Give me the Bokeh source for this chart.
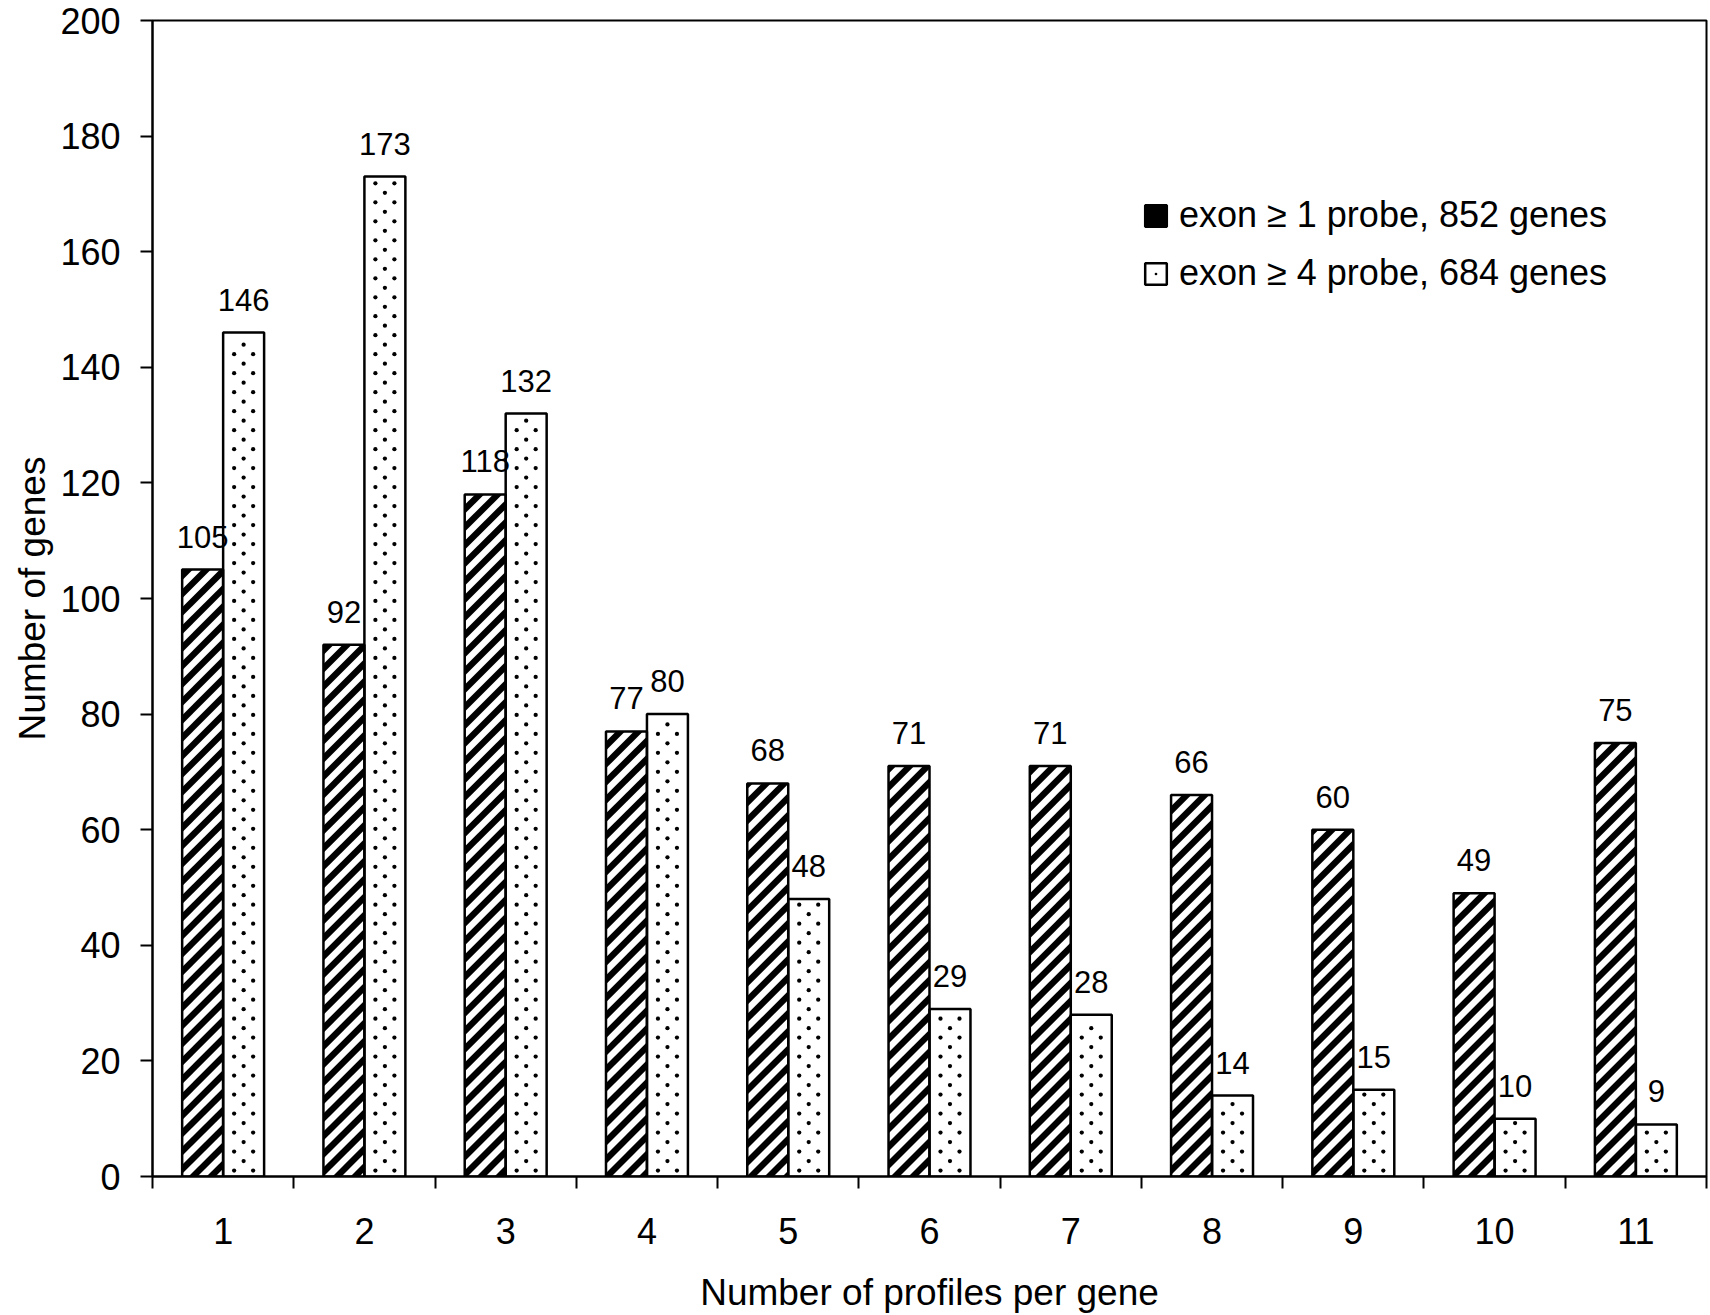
import math
import numpy as np
from bokeh.plotting import figure
from bokeh.models import (ColumnDataSource, Range1d, FixedTicker, Legend, LegendItem,
                          LabelSet)
from bokeh.core.properties import value
from bokeh.embed import file_html
from bokeh.resources import INLINE

# Number of profiles per gene (x categories)
profiles = [1, 2, 3, 4, 5, 6, 7, 8, 9, 10, 11]
tick_labels = ["1", "2", "3", "4", "5", "6", "7", "8", "9", "10", "11"]
# Genes with exon >= 1 probe (852 genes)
genes_ge1 = [105, 92, 118, 77, 68, 71, 71, 66, 60, 49, 75]
# Genes with exon >= 4 probes (684 genes)
genes_ge4 = [146, 173, 132, 80, 48, 29, 28, 14, 15, 10, 9]
series_labels = ["exon \u2265 1 probe, 852 genes", "exon \u2265 4 probe, 684 genes"]

FONT = "Liberation Sans"
BAR_W = 0.29

# page / frame geometry (pixels)
W, H = 1710, 1315
B_LEFT, B_RIGHT, B_TOP, B_BOTTOM = 152, 4, 20, 138
X_START, X_END = 0.5, 11.5
Y_START, Y_END = 0, 200
KX = (W - B_LEFT - B_RIGHT) / (X_END - X_START)   # px per x unit
KY = (H - B_TOP - B_BOTTOM) / (Y_END - Y_START)   # px per y unit

# fill patterns, in screen pixels
STRIPE_PERIOD = 18.0   # horizontal repeat of the 45-degree stripes
STRIPE_BLACK = 9.0     # horizontal width of each black stripe
DOT_STEP = 9.5         # row spacing / half column spacing of the dots


def to_px(xd, yd):
    return (xd - X_START) * KX, (yd - Y_START) * KY


def to_data(X, Y):
    return X / KX + X_START, Y / KY + Y_START


def clip(poly, a, b, c):
    """Keep the part of a polygon where a*X + b*Y <= c."""
    out = []
    n = len(poly)
    for i in range(n):
        P, Q = poly[i], poly[(i + 1) % n]
        fp = a * P[0] + b * P[1] - c
        fq = a * Q[0] + b * Q[1] - c
        if fp <= 0:
            out.append(P)
        if fp * fq < 0:
            t = fp / (fp - fq)
            out.append((P[0] + t * (Q[0] - P[0]), P[1] + t * (Q[1] - P[1])))
    return out


def stripe_polys(left, right, top):
    X0, Y0 = to_px(left, 0)
    X1, Y1 = to_px(right, top)
    rect = [(X0, Y0), (X1, Y0), (X1, Y1), (X0, Y1)]
    xs, ys = [], []
    k0 = math.floor((X0 - Y1) / STRIPE_PERIOD) - 1
    k1 = math.ceil(X1 / STRIPE_PERIOD) + 1
    for k in range(k0, k1 + 1):
        c0 = k * STRIPE_PERIOD
        poly = clip(rect, -1, 1, -c0)
        if poly:
            poly = clip(poly, 1, -1, c0 + STRIPE_BLACK)
        if len(poly) >= 3:
            dx, dy = zip(*[to_data(X, Y) for X, Y in poly])
            xs.append(list(dx))
            ys.append(list(dy))
    return xs, ys


def dot_points(center, top):
    Xc, _ = to_px(center, 0)
    _, Yt = to_px(center, top)
    xs, ys = [], []
    j = 0
    Y = 6.0
    while Y <= Yt - 4:
        cols = [Xc - DOT_STEP, Xc + DOT_STEP] if j % 2 == 0 else [Xc]
        for X in cols:
            xd, yd = to_data(X, Y)
            xs.append(xd)
            ys.append(yd)
        j += 1
        Y += DOT_STEP
    return xs, ys


x = np.array(profiles, dtype=float)
x1 = x - BAR_W / 2
x2 = x + BAR_W / 2
src1 = ColumnDataSource(dict(x=x1, top=genes_ge1, lab=[str(v) for v in genes_ge1]))
src2 = ColumnDataSource(dict(x=x2, top=genes_ge4, lab=[str(v) for v in genes_ge4]))

sx, sy = [], []
for xc, t in zip(x1, genes_ge1):
    a, b = stripe_polys(xc - BAR_W / 2, xc + BAR_W / 2, t)
    sx += a
    sy += b
dx, dy = [], []
for xc, t in zip(x2, genes_ge4):
    a, b = dot_points(xc, t)
    dx += a
    dy += b

p = figure(width=W, height=H, output_backend="svg", toolbar_location=None,
           x_range=Range1d(X_START, X_END), y_range=Range1d(Y_START, Y_END),
           min_border_left=B_LEFT, min_border_right=B_RIGHT,
           min_border_top=B_TOP, min_border_bottom=B_BOTTOM)

p.background_fill_color = "white"
p.border_fill_color = "white"
p.outline_line_color = "black"
p.outline_line_width = 2
p.xgrid.visible = False
p.ygrid.visible = False

# bar bodies
p.vbar(x="x", top="top", width=BAR_W, source=src1, fill_color="white", line_color=None)
p.vbar(x="x", top="top", width=BAR_W, source=src2, fill_color="white", line_color=None)
# fill patterns
r_stripes = p.patches(sx, sy, fill_color="black", line_color=None)
r_dots = p.scatter(dx, dy, marker="dot", size=17, line_color="black", fill_color="black")
# bar outlines on top
r1 = p.vbar(x="x", top="top", width=BAR_W, source=src1, fill_alpha=0,
            line_color="black", line_width=2.5)
r2 = p.vbar(x="x", top="top", width=BAR_W, source=src2, fill_color="white", fill_alpha=0,
            line_color="black", line_width=2.5)

for src in (src1, src2):
    p.add_layout(LabelSet(x="x", y="top", text="lab", source=src, text_align="center",
                          text_baseline="alphabetic", y_offset=22,
                          text_font=value(FONT), text_font_size=value("31px"),
                          text_color="black"))

# x axis: labels at category centres, tick marks between categories
p.xaxis.ticker = FixedTicker(ticks=profiles,
                             minor_ticks=[v + 0.5 for v in [0] + profiles])
p.xaxis.major_label_overrides = {v: s for v, s in zip(profiles, tick_labels)}
p.xaxis.major_tick_out = 0
p.xaxis.major_tick_in = 0
p.xaxis.minor_tick_out = 12
p.xaxis.minor_tick_in = 0
p.xaxis.minor_tick_line_width = 2
p.xaxis.major_label_standoff = 29
p.xaxis.axis_label = "Number of profiles per gene"
p.xaxis.axis_label_standoff = 25

p.yaxis.ticker = FixedTicker(ticks=list(range(0, 201, 20)))
p.yaxis.major_tick_out = 12
p.yaxis.major_tick_in = 0
p.yaxis.minor_tick_out = 0
p.yaxis.minor_tick_in = 0
p.yaxis.major_label_standoff = 20
p.yaxis.axis_label = "Number of genes"
p.yaxis.axis_label_standoff = 4

for ax in (p.xaxis, p.yaxis):
    ax.axis_line_width = 2
    ax.axis_line_color = "black"
    ax.major_tick_line_width = 2
    ax.major_tick_line_color = "black"
    ax.minor_tick_line_color = "black"
    ax.major_label_text_font = FONT
    ax.major_label_text_font_size = "36px"
    ax.major_label_text_color = "black"
    ax.axis_label_text_font = FONT
    ax.axis_label_text_font_size = "37px"
    ax.axis_label_text_font_style = "normal"
    ax.axis_label_text_color = "black"

legend = Legend(items=[LegendItem(label=series_labels[0], renderers=[r_stripes, r1]),
                       LegendItem(label=series_labels[1], renderers=[r2, r_dots])],
                location=(990, 882), padding=0, margin=0, spacing=16,
                glyph_width=27, glyph_height=27, label_standoff=10,
                label_text_font=FONT, label_text_font_size="36px",
                label_text_color="black", background_fill_alpha=0, border_line_alpha=0)
p.add_layout(legend)

open("out.html", "w").write(file_html(p, INLINE))
